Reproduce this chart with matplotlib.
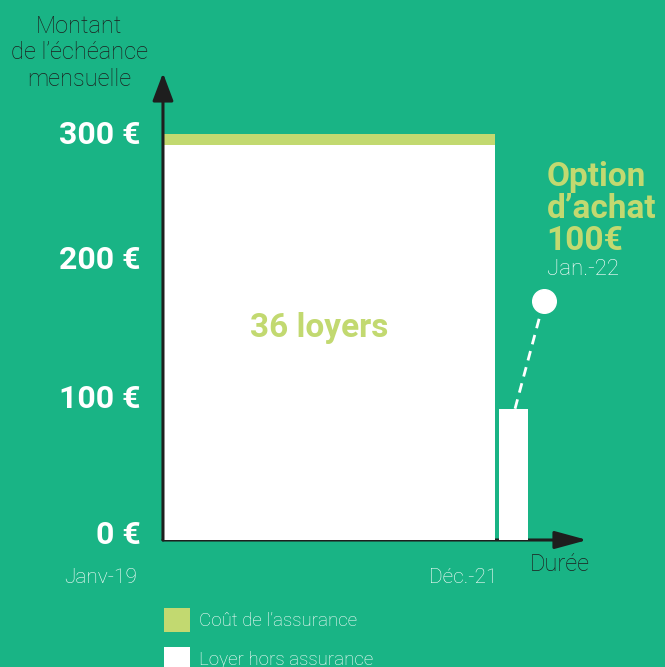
import matplotlib.pyplot as plt
from matplotlib.patches import Patch

# -------------------------------
# Data
# -------------------------------
loyer_mensuel = 292        # loyer hors assurance
assurance = 8              # cout de l'assurance
nb_loyers = 36
option_achat = 97          # hauteur de la barre "option d'achat"
y_ticks = [0, 100, 200, 300]
y_labels = ["0 €", "100 €", "200 €", "300 €"]
x_labels = ["Janv-19", "Déc.-21"]

# -------------------------------
# Style
# -------------------------------
bg = "#19B485"
light_green = "#C2D970"
dark = "#1E1E1E"
white = "#FFFFFF"
thin = dict(family=["Roboto", "DejaVu Sans"], weight="light")
bold = dict(family=["Roboto", "DejaVu Sans"], weight="bold")

fig = plt.figure(figsize=(6.65, 6.67), dpi=100)
fig.patch.set_facecolor(bg)
ax = fig.add_axes([0, 0, 1, 1])
ax.set_facecolor(bg)
# pixel-like mapping: x=0 at 163px, y=0 at 540px from top
ax.set_xlim(-17.67, 54.43)
ax.set_ylim(-93.84, 399.0)
ax.axis("off")

# axes with arrows
ax.annotate("", xy=(0, 345), xytext=(0, 0),
            arrowprops=dict(arrowstyle="-|>,head_width=0.32,head_length=0.85",
                            lw=2.2, color=dark, mutation_scale=20, shrinkA=0, shrinkB=0),
            zorder=3)
ax.annotate("", xy=(46.0, 0), xytext=(0, 0),
            arrowprops=dict(arrowstyle="-|>,head_width=0.3,head_length=1.1",
                            lw=2.2, color=dark, mutation_scale=18, shrinkA=0, shrinkB=0),
            zorder=1)

# bars
ax.bar(nb_loyers / 2, loyer_mensuel, width=nb_loyers, color=white, zorder=2)
ax.bar(nb_loyers / 2, assurance, width=nb_loyers, bottom=loyer_mensuel,
       color=light_green, zorder=2)
ax.bar(38.0, option_achat, width=3.14, color=white, zorder=2)

# dashed connector + dot
ax.plot([38.17, 41.3], [option_achat, 176.6], color=white, lw=2,
        ls=(0, (3.5, 2.5)), zorder=2)
ax.plot([41.3], [176.6], "o", color=white, ms=17, zorder=3)

# y tick labels (the source places them slightly unevenly)
label_shift = [4, 4.5, 7, -1]
for v, lab, dy in zip(y_ticks, y_labels, label_shift):
    ax.text(-2.4, v + dy, lab, ha="right", va="center", color=white,
            fontsize=23, **bold)

# y axis title
ax.text(-9.1, 360, "Montant\nde l’échéance\nmensuelle", ha="center", va="center",
        color=dark, fontsize=17, linespacing=1.2, **thin)

# x labels
ax.text(-6.8, -28, x_labels[0], ha="center", va="center", color=white, fontsize=15, **thin)
ax.text(32.6, -28, x_labels[1], ha="center", va="center", color=white, fontsize=15, **thin)
ax.text(39.8, -18, "Durée", ha="left", va="center", color=dark, fontsize=17, **thin)

# annotations
ax.text(16.9, 157, "36 loyers", ha="center", va="center", color=light_green,
        fontsize=24, **bold)
ax.text(41.6, 280, "Option\nd’achat\n100€", ha="left", va="top", color=light_green,
        fontsize=24, linespacing=1.0, **bold)
ax.text(41.6, 200, "Jan.-22", ha="left", va="center", color=white, fontsize=16, **thin)

# legend
handles = [Patch(facecolor=light_green, edgecolor="none", label="Coût de l’assurance"),
           Patch(facecolor=white, edgecolor="none", label="Loyer hors assurance")]
leg = fig.legend(handles=handles, loc="upper left", bbox_to_anchor=(155 / 665, 1 - 599 / 667),
                 frameon=False, handlelength=1.39, handleheight=1.56,
                 labelspacing=0.8, handletextpad=0.45, borderpad=0,
                 prop=dict(family=["Roboto", "DejaVu Sans"], weight="light", size=13.5))
for t in leg.get_texts():
    t.set_color(white)

plt.savefig("out.png", dpi=100, facecolor=bg)
plt.close()
